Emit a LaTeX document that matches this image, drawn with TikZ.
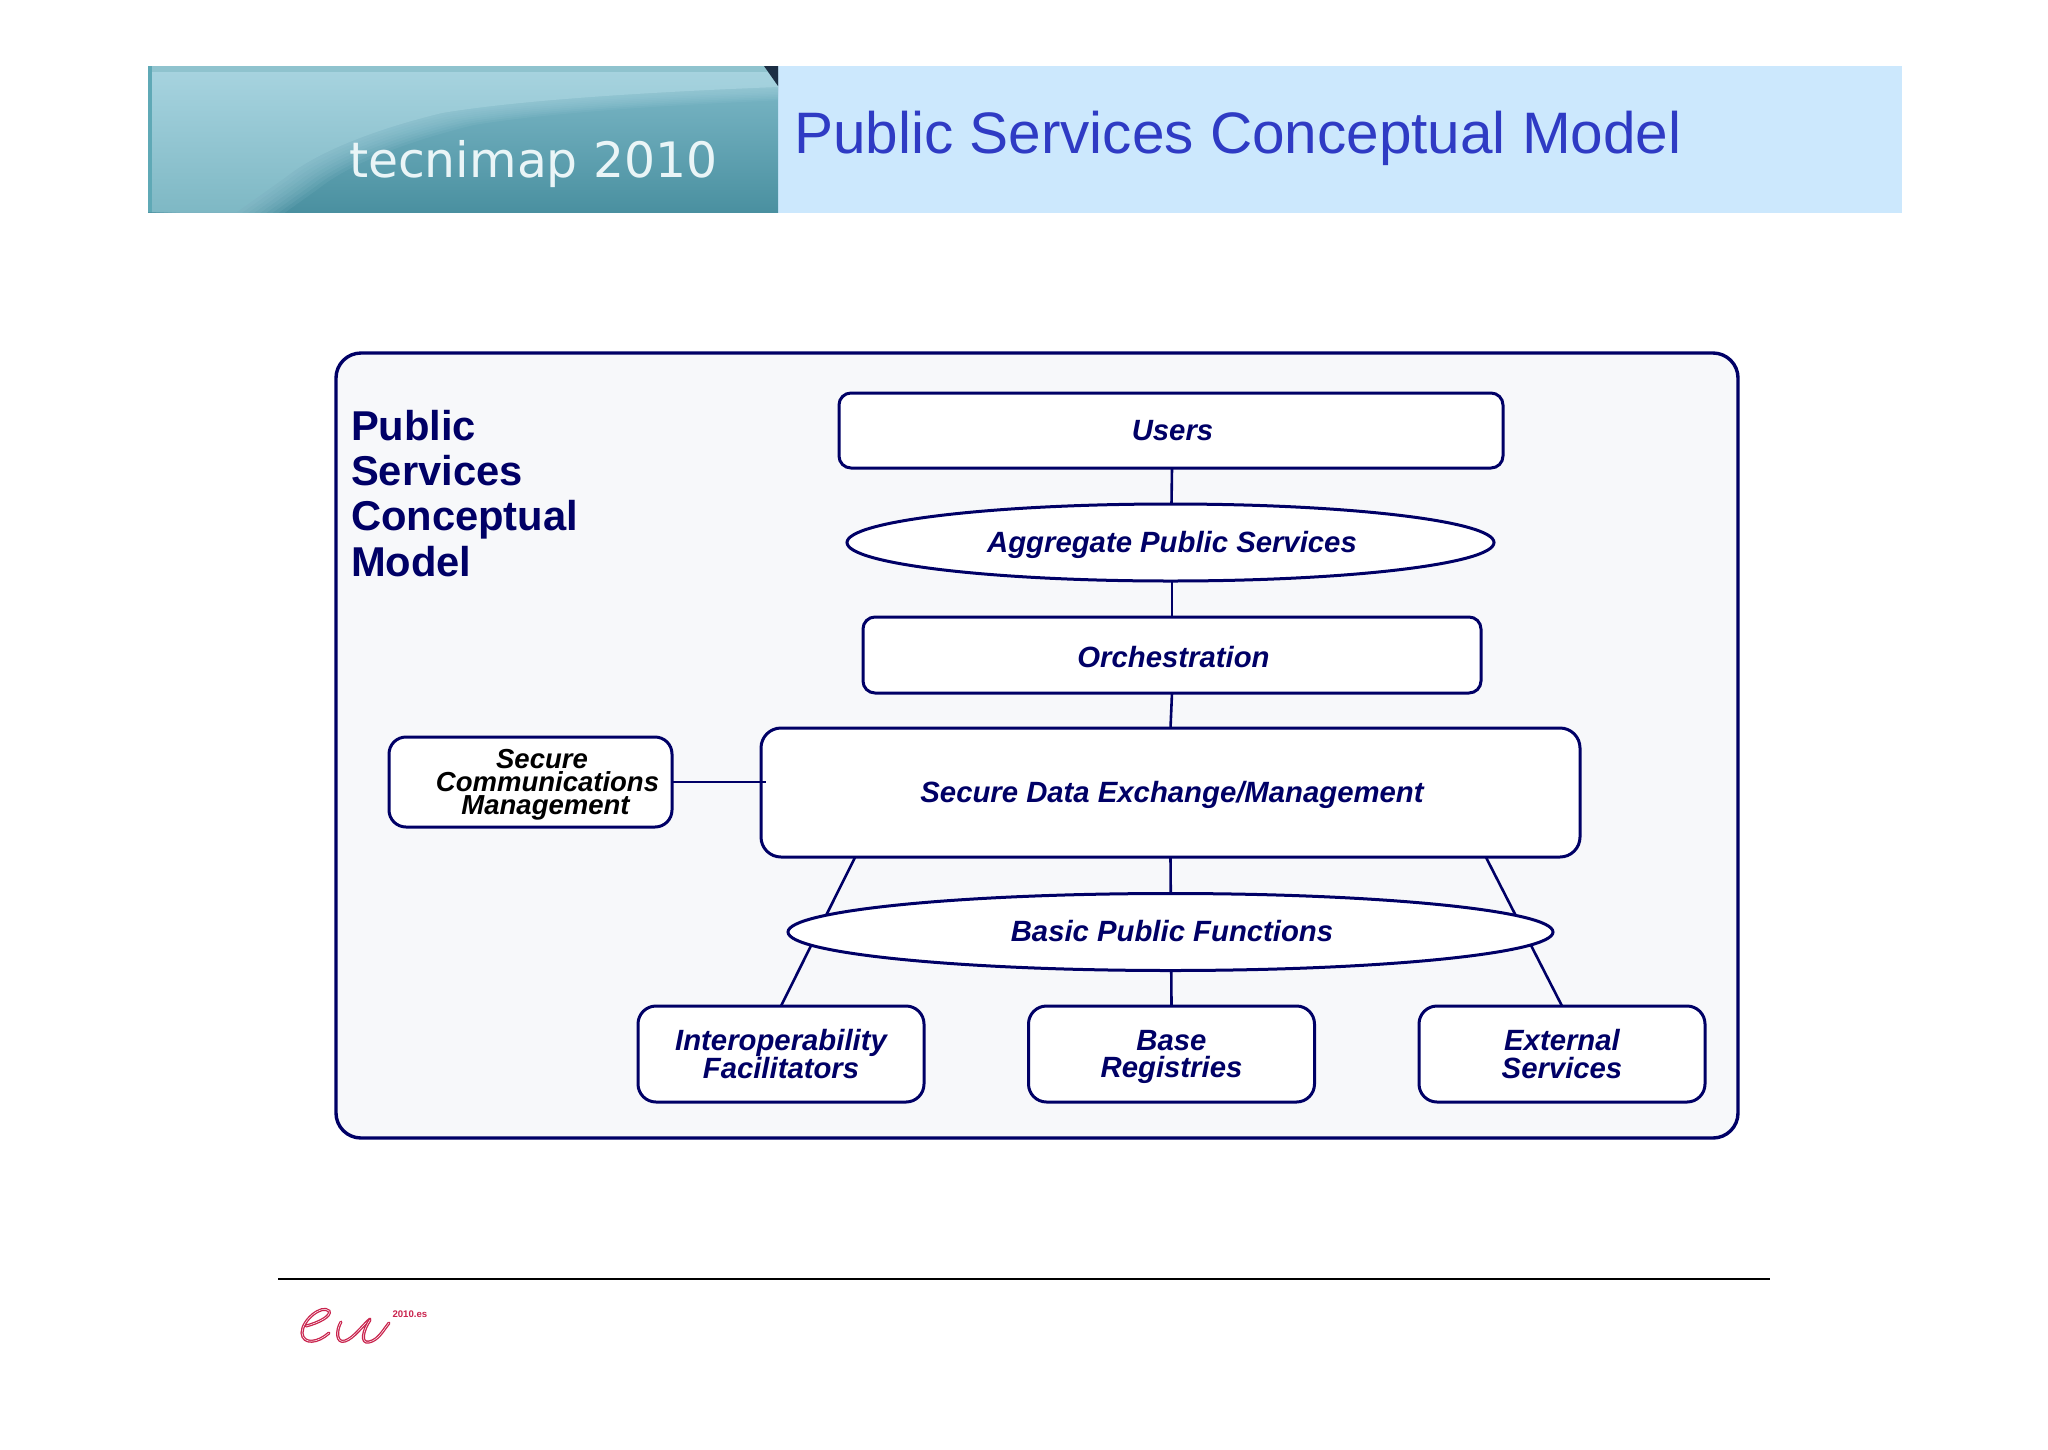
\documentclass[tikz,border=0pt]{standalone}
\usepackage{fontspec}
\setmainfont{Liberation Sans}
\newfontfamily\bannerfont{DejaVu Sans}
\usetikzlibrary{shapes.geometric,calc}
\pgfdeclarelayer{backdrop}
\pgfdeclarelayer{links}
\pgfsetlayers{backdrop,links,main}
\definecolor{navy}{HTML}{000066}
\definecolor{panel}{HTML}{F7F8FA}
\definecolor{headblue}{HTML}{CCE8FD}
\definecolor{titleblue}{HTML}{2F3BC4}
\definecolor{logored}{HTML}{C9234D}
\definecolor{bandtop}{HTML}{80BBCA}
\definecolor{bandbot}{HTML}{4A90A0}
\definecolor{sweepT}{HTML}{A8D4E0}
\definecolor{sweepB}{HTML}{7EB8C4}
\definecolor{bandstrip}{HTML}{8FC3CE}
\definecolor{bandedge}{HTML}{5FA9B6}
\definecolor{bandcorner}{HTML}{1C2E44}
\definecolor{bandtext}{HTML}{EAF5F7}
\newcommand{\sweeppath}{(148,66) -- (778,66) -- (778,87) .. controls (650,92) and (520,100) .. (442,113)
    .. controls (380,128) and (320,150) .. (286,177) -- (237,212) -- (148,212) -- cycle}
\tikzset{
  x=1pt,y=-1pt,
  every node/.style={inner sep=0pt,outer sep=0pt},
  boxbase/.style={draw=navy,line width=3pt,fill=white,text=navy,align=center,
    font=\fontsize{29.3}{27.5}\selectfont\bfseries\itshape},
  sbox/.style={boxbase,rectangle,rounded corners=#1},
  oval/.style={boxbase,ellipse},
  dropbase/.style={text height=2*#1 pt,text depth=0pt},
  link/.style={draw=navy,line width=2.6pt},
  swoosh/.style={draw=logored,line width=1.3pt,double=white,double distance=.5pt,line cap=round},
  headline/.style={anchor=base west,text=navy,font=\fontsize{41.7}{41.7}\selectfont\bfseries}
}
\begin{document}
\begin{tikzpicture}
\useasboundingbox (0,0) rectangle (2048,1449);
\begin{pgfonlayer}{backdrop}
  % header band
  \fill[headblue] (778,66) rectangle (1902,213);
  \shade[top color=bandtop,bottom color=bandbot] (148,66) rectangle (778,212);
  \begin{scope}
    \clip (148,66) rectangle (778,212);
    \foreach \k in {8,7,...,1}
      \fill[sweepT,opacity=.10,shift={(\k*4,\k*1.5)}] \sweeppath;
    \shade[top color=sweepT,bottom color=sweepB] \sweeppath;
  \end{scope}
  \fill[bandstrip] (148,66) rectangle (778,72);
  \fill[bandedge] (148,66) rectangle (152,212);
  \fill[bandcorner] (764,66) -- (778,66) -- (778,86) -- cycle;
  % large panel
  \path[draw=navy,line width=3.4pt,fill=panel,rounded corners=25pt] (336,353) rectangle (1738,1138);
\end{pgfonlayer}

\node[anchor=base west,text=bandtext,font=\bannerfont\fontsize{48.8}{48.8}\selectfont] (banner) at (349,177) {tecnimap 2010};
\node[anchor=base west,text=titleblue,font=\fontsize{58.5}{58.5}\selectfont] (title) at (794,153.5) {Public Services Conceptual Model};

\node[headline] (t1) at (351,440) {Public};
\node[headline] (t2) at (351,485) {Services};
\node[headline] (t3) at (351,530.5) {Conceptual};
\node[headline] (t4) at (351,576) {Model};

\node[sbox=12pt,minimum width=664pt,minimum height=75pt,dropbase=10] (users) at (1171,430.5) {\hspace*{3pt}Users};
\node[oval,minimum width=647pt,minimum height=77pt,dropbase=9.5] (agg) at (1170.5,542.5) {\hspace*{3pt}Aggregate Public Services};
\node[sbox=12pt,minimum width=618pt,minimum height=76pt,dropbase=12] (orch) at (1172,655) {\hspace*{3pt}Orchestration};
\node[sbox=20pt,minimum width=819pt,minimum height=129pt,dropbase=9.5] (sde) at (1170.5,792.5) {\hspace*{3pt}Secure Data Exchange/Management};
\node[sbox=17pt,minimum width=283pt,minimum height=90pt] (scm) at (530.5,782) {};
\node[align=center,text=black,font=\fontsize{27.5}{23}\selectfont\bfseries\itshape] (scmtext) at (547.5,785) {\hspace*{-11pt}Secure\\Communications\\\hspace*{-4pt}Management};
\node[oval,minimum width=765pt,minimum height=77pt,dropbase=9.5] (basic) at (1170.5,932) {\hspace*{3pt}Basic Public Functions};
\node[sbox=18pt,minimum width=286pt,minimum height=96pt] (interop) at (781,1054) {Interoperability\\Facilitators};
\node[sbox=18pt,minimum width=286pt,minimum height=96pt,text depth=0pt] (base) at (1171.5,1054) {Base\\Registries};
\node[sbox=18pt,minimum width=286pt,minimum height=96pt] (ext) at (1562,1054) {External\\Services};

\begin{pgfonlayer}{links}
  \draw[link] ($(users.south)+(1,0)$) -- ($(agg.north)+(1,0)$);
  \draw[link] ($(agg.south)+(1.5,0)$) -- (orch.north);
  \draw[link] (orch.south) -- (sde.north);
  \draw[link] (sde.south) -- (base.north);
  \draw[link] ($(sde.south west)!0.115!(sde.south east)$) -- (interop.north);
  \draw[link] ($(sde.south west)!0.885!(sde.south east)$) -- (ext.north);
\end{pgfonlayer}
\draw[link] (scm.east) -- ($(scm.east -| sde.west)+(5,0)$);

\coordinate (ruleL) at (278,1279);
\coordinate (ruleR) at (1770,1279);
\draw[line width=2.2pt,black] (ruleL) -- (ruleR);

% logo
\draw[swoosh] (306,1326) .. controls (318,1323) and (332,1316) .. (329,1311)
  .. controls (322,1304) and (302,1320) .. (302,1333)
  .. controls (303,1345) and (318,1343) .. (329,1333);
\draw[swoosh] (341,1322) .. controls (336,1330) and (336,1344) .. (345,1341)
  .. controls (354,1338) and (362,1326) .. (370,1319);
\draw[swoosh] (370,1320) .. controls (363,1330) and (360,1344) .. (369,1342)
  .. controls (378,1340) and (382,1332) .. (389,1323);
\node[anchor=base west,text=logored,font=\fontsize{9.6}{9.6}\selectfont\bfseries] (eu) at (392.5,1317) {2010.es};
\end{tikzpicture}
\end{document}
